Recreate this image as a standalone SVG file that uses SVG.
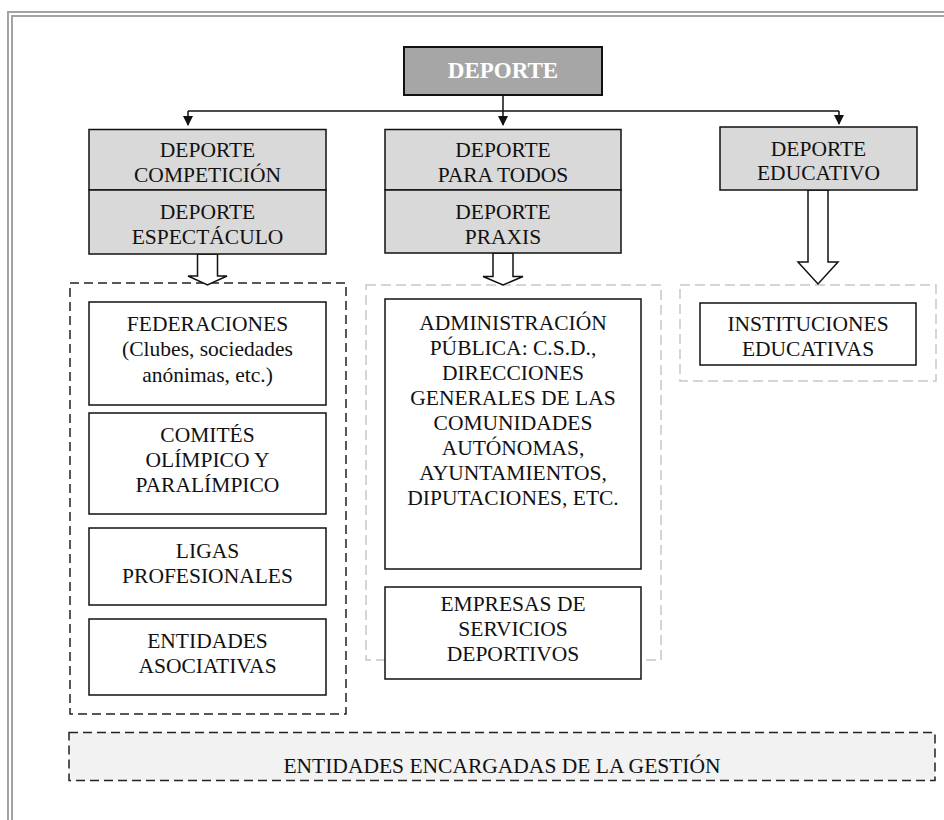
<svg xmlns="http://www.w3.org/2000/svg" width="944" height="820" viewBox="0 0 944 820">
  <style>
    .frame { fill: none; stroke: #a3a3a3; stroke-width: 2; }
    .lbl { font-family: "Liberation Serif", "Times New Roman", serif; font-size: 21.5px; fill: #111; text-anchor: middle; }
    .title { font-family: "Liberation Serif", "Times New Roman", serif; font-size: 23px; font-weight: bold; fill: #ffffff; text-anchor: middle; }
    .box { fill: #ffffff; stroke: #111; stroke-width: 1.5; }
    .cat { fill: #d9d9d9; stroke: #111; stroke-width: 1.5; }
    .root { fill: #a6a6a6; stroke: #111; stroke-width: 2; }
    .grpBlack { fill: none; stroke: #222; stroke-width: 1.5; stroke-dasharray: 9 5; }
    .grpGray { fill: none; stroke: #c8c8c8; stroke-width: 1.5; stroke-dasharray: 10 5; }
    .band { fill: #f2f2f2; stroke: #222; stroke-width: 1.5; stroke-dasharray: 9 5; }
    .wire { fill: none; stroke: #111; stroke-width: 1.5; }
    .hollow { fill: #ffffff; stroke: #111; stroke-width: 1.5; stroke-linejoin: miter; }
  </style>
  <defs>
    <marker id="tip" markerWidth="10" markerHeight="10" refX="9" refY="5" orient="auto" markerUnits="userSpaceOnUse">
      <path d="M0,0 L10,5 L0,10 Z" fill="#111"/>
    </marker>
  </defs>

  <!-- page frame (double rule) -->
  <path class="frame" d="M8,830 V12 H950"/>
  <path class="frame" d="M12,830 V16 H950"/>

  <!-- grouping areas -->
  <g id="group-competicion">
    <rect class="grpBlack" x="70" y="283" width="276" height="431"/>
  </g>
  <g id="group-para-todos">
    <rect class="grpGray" x="366" y="285" width="295" height="375"/>
  </g>
  <g id="group-educativo">
    <rect class="grpGray" x="680" y="285" width="256" height="96"/>
  </g>

  <!-- connectors -->
  <g id="connectors">
    <path class="wire" d="M503,95 V111"/>
    <path class="wire" d="M188,111 H839"/>
    <path class="wire" d="M188,111 V125" marker-end="url(#tip)"/>
    <path class="wire" d="M503,111 V125" marker-end="url(#tip)"/>
    <path class="wire" d="M839,111 V124" marker-end="url(#tip)"/>
    <polygon class="hollow" points="197.5,254 217.5,254 217.5,276 227,276 207.5,285 188,276 197.5,276"/>
    <polygon class="hollow" points="493,253 513,253 513,276.5 523,276.5 503,285 483,276.5 493,276.5"/>
    <polygon class="hollow" points="808,190 828,190 828,262 838,262 818,284 798,262 808,262"/>
  </g>

  <!-- root -->
  <g id="deporte">
    <rect class="root" x="404" y="47" width="198" height="48"/>
    <text class="title" x="503" y="78">DEPORTE</text>
  </g>

  <!-- first level -->
  <g id="deporte-competicion">
    <rect class="cat" x="89" y="129.5" width="237" height="60.5"/>
    <text class="lbl" x="207.5" y="156.5">DEPORTE</text>
    <text class="lbl" x="207.5" y="181.5">COMPETICIÓN</text>
  </g>
  <g id="deporte-espectaculo">
    <rect class="cat" x="89" y="190" width="237" height="64"/>
    <text class="lbl" x="207.5" y="218.5">DEPORTE</text>
    <text class="lbl" x="207.5" y="243.5">ESPECTÁCULO</text>
  </g>
  <g id="deporte-para-todos">
    <rect class="cat" x="385" y="129.5" width="236" height="60.5"/>
    <text class="lbl" x="503" y="157">DEPORTE</text>
    <text class="lbl" x="503" y="182">PARA TODOS</text>
  </g>
  <g id="deporte-praxis">
    <rect class="cat" x="385" y="190" width="236" height="63"/>
    <text class="lbl" x="503" y="219">DEPORTE</text>
    <text class="lbl" x="503" y="244">PRAXIS</text>
  </g>
  <g id="deporte-educativo">
    <rect class="cat" x="720" y="127" width="197" height="63"/>
    <text class="lbl" x="818.5" y="155.5">DEPORTE</text>
    <text class="lbl" x="818.5" y="179.5">EDUCATIVO</text>
  </g>

  <!-- entities: competition / spectacle -->
  <g id="federaciones">
    <rect class="box" x="89" y="302" width="237" height="103"/>
    <text class="lbl" x="207.5" y="331">FEDERACIONES</text>
    <text class="lbl" x="207.5" y="356">(Clubes, sociedades</text>
    <text class="lbl" x="207.5" y="381.5">anónimas, etc.)</text>
  </g>
  <g id="comites">
    <rect class="box" x="89" y="413" width="237" height="101"/>
    <text class="lbl" x="207.5" y="441.5">COMITÉS</text>
    <text class="lbl" x="207.5" y="466.5">OLÍMPICO Y</text>
    <text class="lbl" x="207.5" y="492">PARALÍMPICO</text>
  </g>
  <g id="ligas">
    <rect class="box" x="89" y="528" width="237" height="77"/>
    <text class="lbl" x="207.5" y="557.5">LIGAS</text>
    <text class="lbl" x="207.5" y="582.5">PROFESIONALES</text>
  </g>
  <g id="entidades-asociativas">
    <rect class="box" x="89" y="619" width="237" height="76"/>
    <text class="lbl" x="207.5" y="648">ENTIDADES</text>
    <text class="lbl" x="207.5" y="673">ASOCIATIVAS</text>
  </g>

  <!-- entities: sport for all -->
  <g id="administracion">
    <rect class="box" x="385" y="299" width="256" height="270"/>
    <text class="lbl" x="513" y="330">ADMINISTRACIÓN</text>
    <text class="lbl" x="513" y="355">PÚBLICA: C.S.D.,</text>
    <text class="lbl" x="513" y="380">DIRECCIONES</text>
    <text class="lbl" x="513" y="405">GENERALES DE LAS</text>
    <text class="lbl" x="513" y="430">COMUNIDADES</text>
    <text class="lbl" x="513" y="455">AUTÓNOMAS,</text>
    <text class="lbl" x="513" y="480">AYUNTAMIENTOS,</text>
    <text class="lbl" x="513" y="505">DIPUTACIONES, ETC.</text>
  </g>
  <g id="empresas">
    <rect class="box" x="385" y="587" width="256" height="92"/>
    <text class="lbl" x="513" y="611">EMPRESAS DE</text>
    <text class="lbl" x="513" y="636">SERVICIOS</text>
    <text class="lbl" x="513" y="661">DEPORTIVOS</text>
  </g>

  <!-- entities: educational sport -->
  <g id="instituciones">
    <rect class="box" x="700" y="303" width="216" height="62"/>
    <text class="lbl" x="808" y="331">INSTITUCIONES</text>
    <text class="lbl" x="808" y="355.5">EDUCATIVAS</text>
  </g>

  <!-- footer band -->
  <g id="gestion">
    <rect class="band" x="69" y="732.5" width="866" height="48"/>
    <text class="lbl" x="502" y="773">ENTIDADES ENCARGADAS DE LA GESTIÓN</text>
  </g>
</svg>
